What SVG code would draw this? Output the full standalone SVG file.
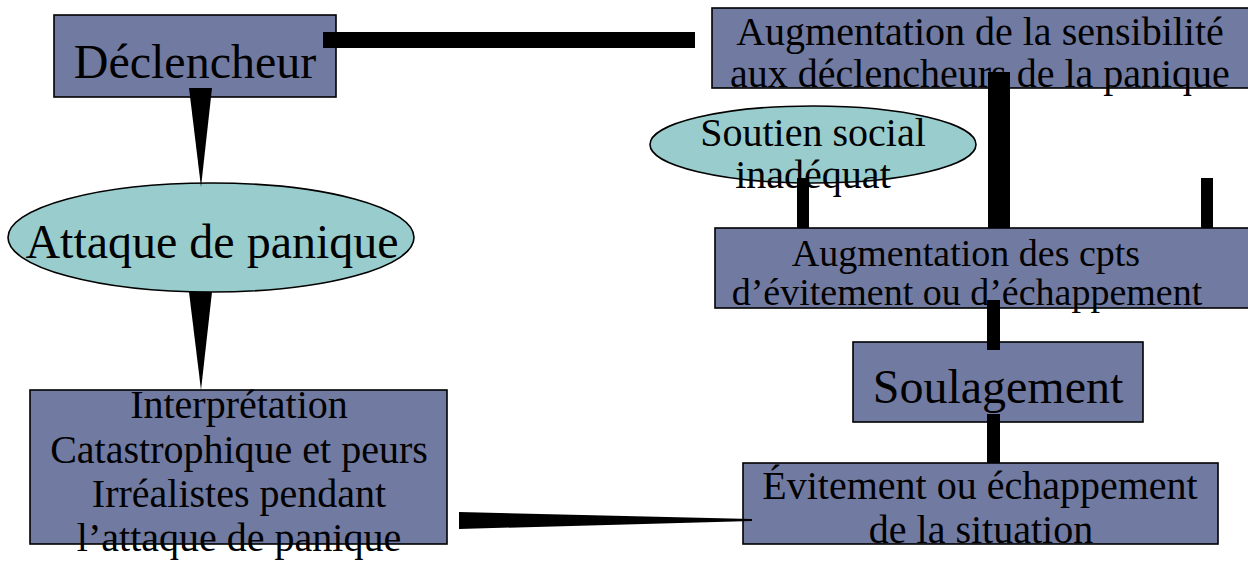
<svg xmlns="http://www.w3.org/2000/svg" width="1248" height="565" viewBox="0 0 1248 565">
<style>
.box{fill:#717AA1;stroke:#000;stroke-width:1.6}
.ell{fill:#99CCCC;stroke:#000;stroke-width:1.6}
text{font-family:"Liberation Serif","Times New Roman",serif;fill:#000;text-anchor:middle}
.big{font-size:48px}
.mid{font-size:40px}
.sm{font-size:38px}
.conn{fill:#000}
</style>
<rect width="1248" height="565" fill="#fff"/>
<g id="declencheur">
<rect class="box" x="54" y="15" width="282" height="82"/>
<text class="big" x="195" y="78">Déclencheur</text>
</g>
<g id="attaque">
<ellipse class="ell" cx="211" cy="237.5" rx="203" ry="54.5"/>
<text class="big" x="212" y="258">Attaque de panique</text>
</g>
<g id="interpretation">
<rect class="box" x="30" y="390" width="417" height="154"/>
<text class="mid" x="239" y="418">Interprétation</text>
<text class="mid" x="239" y="463">Catastrophique et peurs</text>
<text class="mid" x="239" y="507">Irréalistes pendant</text>
<text class="mid" x="239" y="551">l’attaque de panique</text>
</g>
<g id="sensibilite">
<rect class="box" x="712" y="8" width="538" height="80"/>
<text class="mid" x="980" y="45">Augmentation de la sensibilité</text>
<text class="mid" x="980" y="87">aux déclencheurs de la panique</text>
</g>
<g id="soutien">
<ellipse class="ell" cx="813" cy="144.5" rx="163" ry="38.5"/>
<text class="mid" x="813" y="146">Soutien social</text>
<text class="mid" x="813" y="188">inadéquat</text>
</g>
<g id="cpts">
<rect class="box" x="715" y="228" width="535" height="80"/>
<text class="sm" x="966" y="266">Augmentation des cpts</text>
<text class="sm" x="967" y="305">d’évitement ou d’échappement</text>
</g>
<g id="soulagement">
<rect class="box" x="853" y="342" width="290" height="80"/>
<text class="big" x="998" y="403">Soulagement</text>
</g>
<g id="evitement">
<rect class="box" x="743" y="463" width="475" height="81"/>
<text class="mid" x="980" y="499">Évitement ou échappement</text>
<text class="mid" x="981" y="543">de la situation</text>
</g>
<g id="connectors">
<rect class="conn" x="323" y="32" width="372" height="16"/>
<polygon class="conn" points="189,88 212,88 201,187"/>
<polygon class="conn" points="189,292 212,292 201,390"/>
<polygon class="conn" points="459,512 459,529 752,521 752,519"/>
<rect class="conn" x="988" y="72" width="22" height="156"/>
<rect class="conn" x="797" y="178" width="12" height="50"/>
<rect class="conn" x="1201" y="178" width="12" height="50"/>
<rect class="conn" x="987" y="300" width="13" height="50"/>
<rect class="conn" x="987" y="414" width="13" height="49"/>
</g>
</svg>
